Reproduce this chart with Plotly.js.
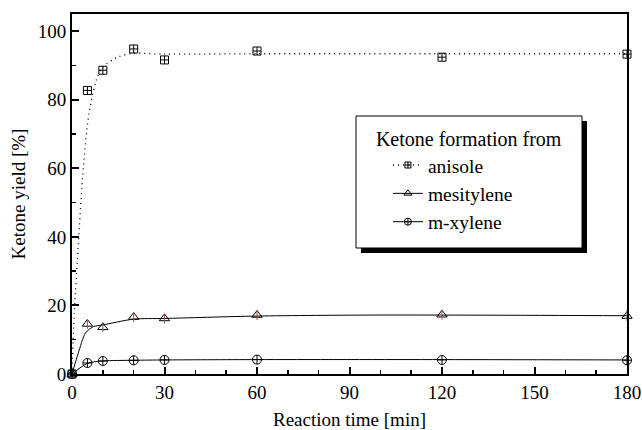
<!DOCTYPE html>
<html>
<head>
<meta charset="utf-8">
<script src="https://cdn.plot.ly/plotly-3.0.1.min.js"></script>
<style>html,body{margin:0;padding:0;background:#fff;}#chart{width:642px;height:430px;}</style>
</head>
<body>
<div id="chart"></div>
<script>
// Measured data points
const timeMin = [0, 5, 10, 20, 30, 60, 120, 180];
const anisole = [0, 82.7, 88.6, 94.8, 91.6, 94.2, 92.4, 93.3];
const mesitylene = [0, 14.6, 13.6, 16.6, 16.2, 17.2, 17.3, 16.9];
const mXylene = [0, 3.2, 3.8, 4.0, 4.1, 4.2, 4.1, 4.0];

// Fitted curves
const anisoleFitTime = [0, 0.75, 2, 3.4, 5.5, 8, 10, 15, 20, 30, 60, 120, 180];
const anisoleFit = [0, 18, 37, 57, 76, 86, 89.5, 92.5, 93.5, 93.3, 93.4, 93.4, 93.4];
const mesityleneFitTime = [0, 2, 4.4, 6.9, 10, 20, 30, 60, 100, 180];
const mesityleneFit = [0, 6, 12, 13.8, 14.3, 16.0, 16.2, 16.9, 17.2, 17.0];
const mXyleneFitTime = [0, 5, 10, 20, 30, 60, 120, 180];
const mXyleneFit = [0, 3.1, 3.8, 4.0, 4.1, 4.2, 4.2, 4.1];

const seriesNames = ['anisole', 'mesitylene', 'm-xylene'];
const legendTitle = 'Ketone formation from';
const xTicks = [0, 30, 60, 90, 120, 150, 180];
const yTicks = [0, 20, 40, 60, 80, 100];

const FONT = '"Liberation Serif", "Times New Roman", serif';
const mk = (sym, s) => ({symbol: sym, size: s || 8, color: '#000', line: {color: '#000', width: 1}});

const traces = [
  {x: anisoleFitTime, y: anisoleFit, mode: 'lines', line: {color: '#000', width: 1.3, dash: '1px,4px', shape: 'spline', smoothing: 0.8}, showlegend: false, hoverinfo: 'skip'},
  {x: mesityleneFitTime, y: mesityleneFit, mode: 'lines', line: {color: '#000', width: 1, shape: 'spline', smoothing: 0.8}, showlegend: false, hoverinfo: 'skip'},
  {x: mXyleneFitTime, y: mXyleneFit, mode: 'lines', line: {color: '#000', width: 1, shape: 'spline', smoothing: 0.8}, showlegend: false, hoverinfo: 'skip'},
  {x: timeMin, y: anisole, mode: 'markers', marker: mk('square-cross-open'), showlegend: false, cliponaxis: false},
  {x: timeMin, y: mesitylene, mode: 'markers', marker: mk('triangle-up-open', 9), showlegend: false, cliponaxis: false},
  {x: timeMin, y: mesitylene, mode: 'markers', marker: {symbol: 'line-ns-open', size: 7, line: {color: '#000', width: 1}}, showlegend: false, cliponaxis: false},
  {x: timeMin, y: mXylene, mode: 'markers', marker: mk('circle-cross-open', 9), showlegend: false, cliponaxis: false},
  {x: [null], y: [null], name: seriesNames[0], mode: 'lines+markers', line: {color: '#000', width: 1.3, dash: '1px,4px'}, marker: mk('square-cross-open', 6)},
  {x: [null], y: [null], name: seriesNames[1], mode: 'lines+markers', line: {color: '#000', width: 1}, marker: mk('triangle-up-open', 7)},
  {x: [null], y: [null], name: seriesNames[2], mode: 'lines+markers', line: {color: '#000', width: 1}, marker: mk('circle-cross-open', 7)}
];

const axisCommon = {
  showgrid: false, zeroline: false, showline: true, linecolor: '#000', linewidth: 2, mirror: true,
  ticks: 'inside', ticklen: 7, tickwidth: 2, tickcolor: '#000',
  tickfont: {family: FONT, size: 19, color: '#000'}
};

const layout = {
  width: 642, height: 430,
  margin: {l: 72, r: 15, t: 14, b: 56},
  paper_bgcolor: '#fff', plot_bgcolor: '#fff',
  font: {family: FONT, size: 19, color: '#000'},
  xaxis: Object.assign({}, axisCommon, {
    range: [0, 180], tickvals: xTicks, ticktext: xTicks.map(String),
    minor: {dtick: 10, ticklen: 4, tickwidth: 1.5, tickcolor: '#000', ticks: 'inside'},
    title: {text: 'Reaction time [min]', font: {family: FONT, size: 19, color: '#000'}, standoff: 11}
  }),
  yaxis: Object.assign({}, axisCommon, {
    range: [0, 105], tickvals: yTicks, ticktext: yTicks.map(String),
    minor: {dtick: 10, ticklen: 4, tickwidth: 1.5, tickcolor: '#000', ticks: 'inside'},
    title: {text: 'Ketone yield [%]', font: {family: FONT, size: 19, color: '#000'}, standoff: 7}
  }),
  legend: {
    x: 0.544, y: 0.706, xanchor: 'left', yanchor: 'top',
    bgcolor: 'rgba(0,0,0,0)', borderwidth: 0,
    font: {family: FONT, size: 19.5, color: '#000'},
    title: {text: legendTitle, font: {family: FONT, size: 20, color: '#000'}},
    tracegroupgap: 0, indentation: 14
  },
  shapes: [
    {type: 'rect', xref: 'paper', yref: 'paper', layer: 'above',
     x0: (361 - 72) / 555, x1: (587 - 72) / 555, y0: (374 - 253) / 360, y1: (374 - 121) / 360,
     fillcolor: '#000', line: {width: 0}},
    {type: 'rect', xref: 'paper', yref: 'paper', layer: 'above',
     x0: (356 - 72) / 555, x1: (582 - 72) / 555, y0: (374 - 248) / 360, y1: (374 - 116) / 360,
     fillcolor: '#fff', line: {color: '#000', width: 1}}
  ]
};

Plotly.newPlot('chart', traces, layout, {displayModeBar: false, staticPlot: true});
</script>
</body>
</html>
